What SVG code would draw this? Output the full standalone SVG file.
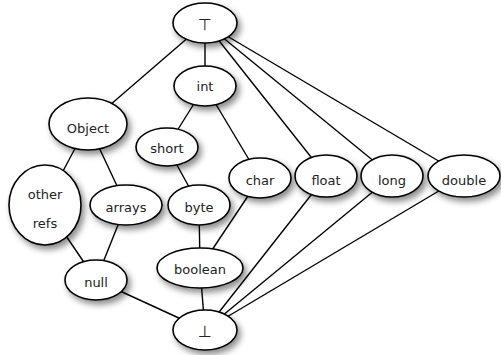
<svg xmlns="http://www.w3.org/2000/svg" width="501" height="355" viewBox="0 0 501 355">
<defs>
<filter id="sh" x="-30%" y="-30%" width="170%" height="180%">
<feDropShadow dx="3" dy="4" stdDeviation="3" flood-color="#000" flood-opacity="0.45"/>
</filter>
<style>
.n ellipse{fill:#fff;stroke:#000;stroke-width:1.6;filter:url(#sh)}
.n text{font-family:"DejaVu Sans",sans-serif;font-size:13px;fill:#222;text-anchor:middle}
.n text.sym{font-size:16px}
#edges line{stroke:#000;stroke-width:1.4}
</style>
</defs>
<rect width="501" height="355" fill="#fff"/>
<g id="edges">
<line x1="205" y1="23" x2="88" y2="124"/>
<line x1="205" y1="23" x2="205" y2="86"/>
<line x1="205" y1="23" x2="326" y2="176"/>
<line x1="205" y1="23" x2="392" y2="176"/>
<line x1="205" y1="23" x2="464" y2="176"/>
<line x1="205" y1="86" x2="167" y2="147"/>
<line x1="205" y1="86" x2="260" y2="178"/>
<line x1="88" y1="124" x2="45" y2="205"/>
<line x1="88" y1="124" x2="126" y2="205"/>
<line x1="167" y1="147" x2="199" y2="205"/>
<line x1="45" y1="205" x2="96" y2="280"/>
<line x1="126" y1="205" x2="96" y2="280"/>
<line x1="199" y1="205" x2="200" y2="268"/>
<line x1="260" y1="178" x2="200" y2="268"/>
<line x1="96" y1="280" x2="205" y2="330"/>
<line x1="200" y1="268" x2="205" y2="330"/>
<line x1="326" y1="176" x2="205" y2="330"/>
<line x1="392" y1="176" x2="205" y2="330"/>
<line x1="464" y1="176" x2="205" y2="330"/>
</g>
<g id="top" class="n"><ellipse cx="205" cy="23" rx="32" ry="20"/><text class="sym" x="205" y="30">⊤</text></g>
<g id="int" class="n"><ellipse cx="205" cy="86" rx="31" ry="20"/><text x="205" y="91">int</text></g>
<g id="object" class="n"><ellipse cx="88" cy="124" rx="39" ry="26"/><text x="88" y="133">Object</text></g>
<g id="short" class="n"><ellipse cx="167" cy="147" rx="31" ry="19"/><text x="167" y="153">short</text></g>
<g id="otherrefs" class="n"><ellipse cx="45" cy="205" rx="36" ry="40"/><text x="45" y="199">other</text><text x="45" y="228">refs</text></g>
<g id="arrays" class="n"><ellipse cx="126" cy="205" rx="36" ry="20"/><text x="126" y="212">arrays</text></g>
<g id="byte" class="n"><ellipse cx="199" cy="205" rx="31" ry="20"/><text x="199" y="212">byte</text></g>
<g id="char" class="n"><ellipse cx="260" cy="178" rx="31" ry="20"/><text x="260" y="185">char</text></g>
<g id="float" class="n"><ellipse cx="326" cy="176" rx="31" ry="21"/><text x="326" y="185">float</text></g>
<g id="long" class="n"><ellipse cx="392" cy="176" rx="31" ry="21"/><text x="392" y="185">long</text></g>
<g id="double" class="n"><ellipse cx="464" cy="176" rx="36" ry="21"/><text x="464" y="185">double</text></g>
<g id="boolean" class="n"><ellipse cx="200" cy="268" rx="43" ry="20"/><text x="200" y="274">boolean</text></g>
<g id="null" class="n"><ellipse cx="96" cy="280" rx="31" ry="20"/><text x="96" y="287">null</text></g>
<g id="bottom" class="n"><ellipse cx="205" cy="330" rx="32" ry="20"/><text class="sym" x="205" y="337">⊥</text></g>
</svg>
